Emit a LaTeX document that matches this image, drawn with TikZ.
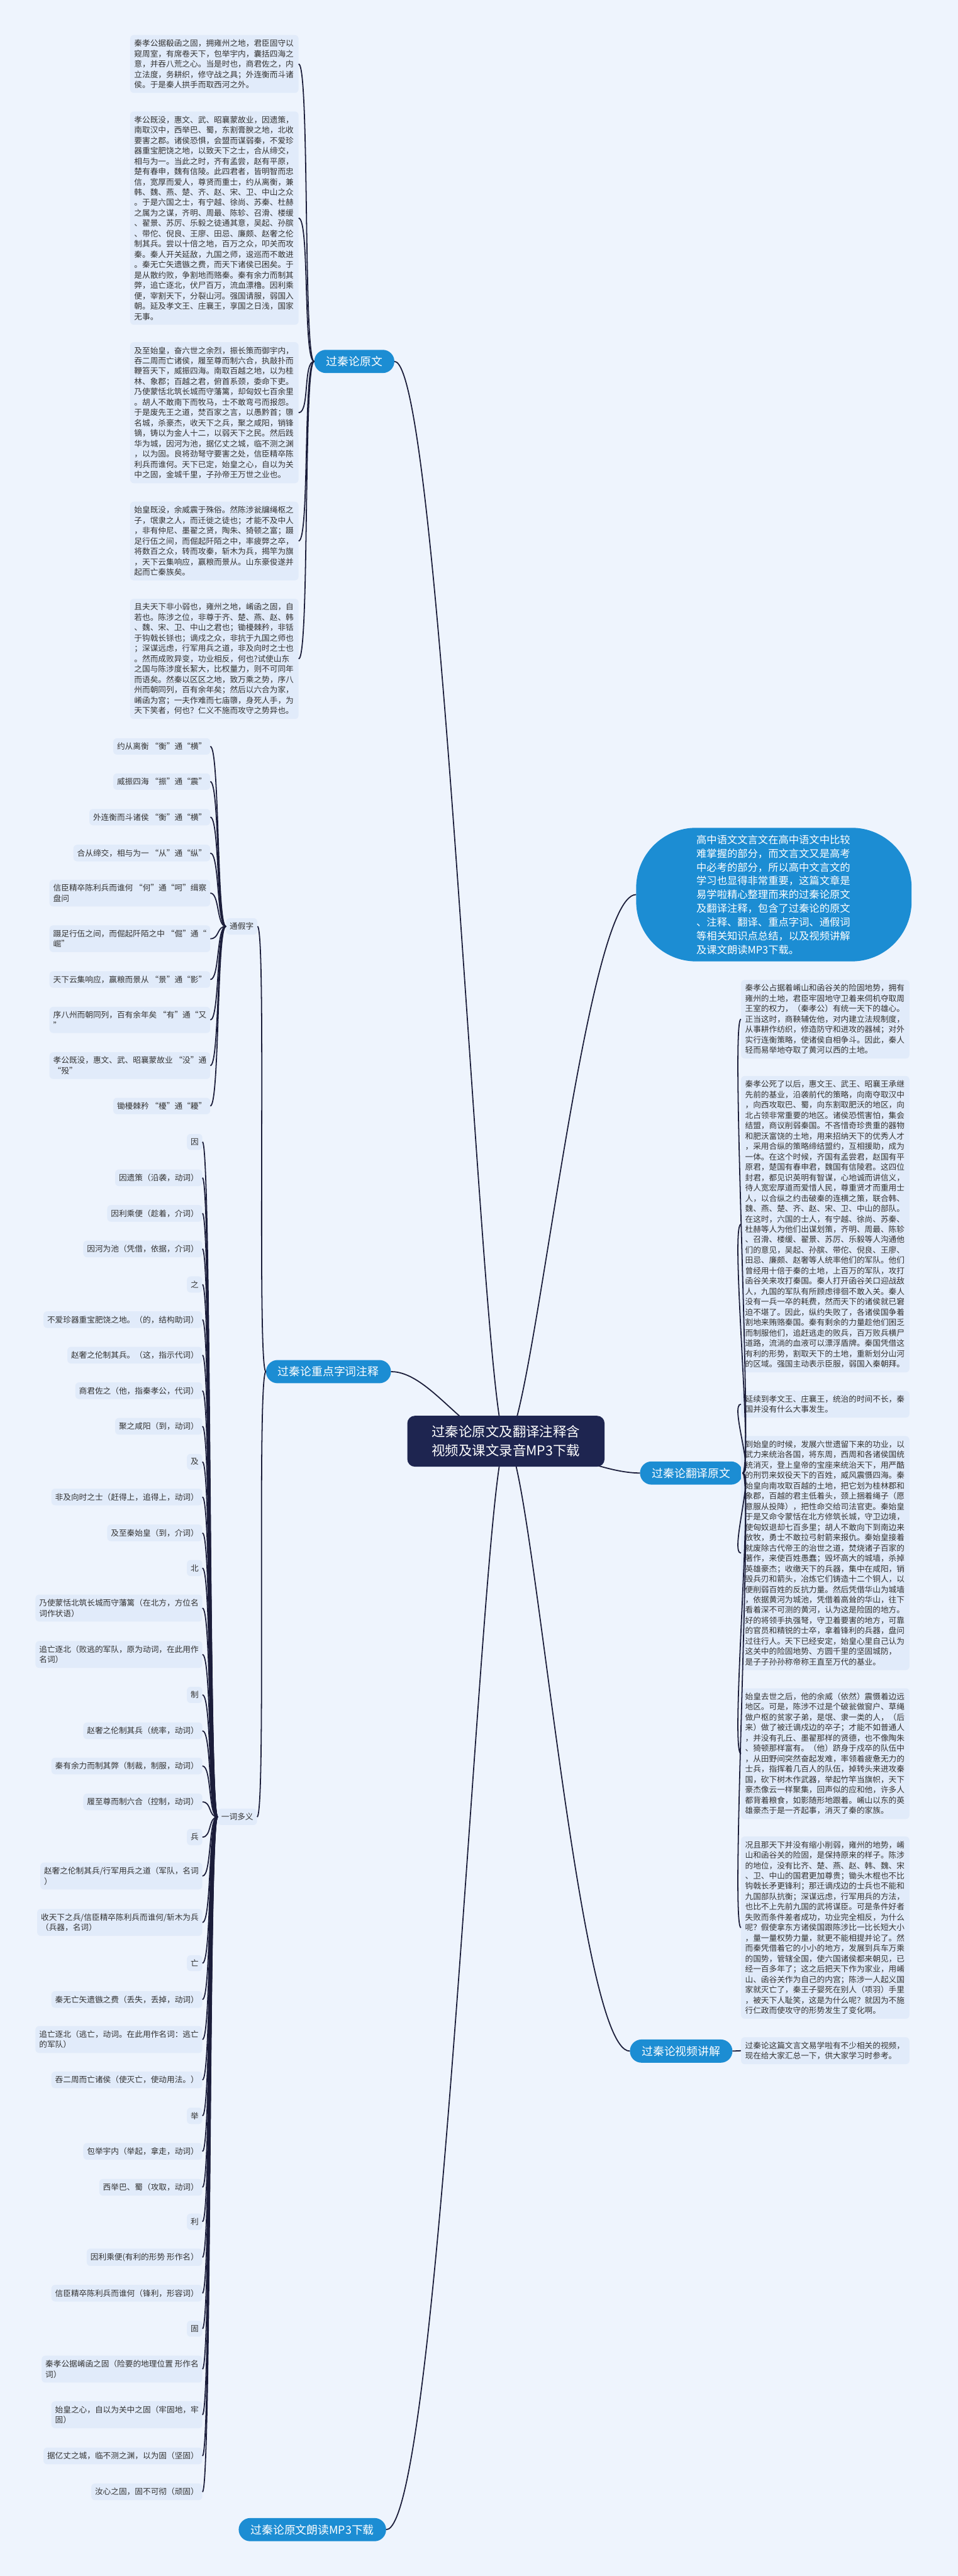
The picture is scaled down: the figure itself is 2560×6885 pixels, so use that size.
\documentclass[tikz,border=0pt]{standalone}
\usepackage{fontspec}
\setmainfont{Noto Sans CJK SC}
\XeTeXlinebreaklocale "zh"
\XeTeXlinebreakskip=0pt plus 1pt
\definecolor{mapbg}{HTML}{EEF4FD}
\definecolor{notebg}{HTML}{E1EBFA}
\definecolor{ink}{HTML}{333333}
\definecolor{mapblue}{HTML}{1C8DD3}
\definecolor{rootnavy}{HTML}{1E2550}
\definecolor{linkc}{HTML}{1B1D3A}
\newcommand{\bodyfont}{\fontsize{21.3}{27.7}\selectfont}
\tikzset{
  parabox/.style={fill=notebg, rounded corners=10pt, inner xsep=11pt, inner ysep=12pt,
                  text width=428pt, align=left, text=ink, font=\bodyfont},
  notebox/.style={fill=notebg, rounded corners=10pt, inner xsep=10pt, inner ysep=12pt,
                  align=left, text=ink, font=\bodyfont},
  pill/.style={fill=mapblue, rounded corners=31pt, minimum height=62pt, inner xsep=32pt,
               text=white, font=\fontsize{30}{36}\selectfont},
  introbox/.style={fill=mapblue, rounded corners=160pt, minimum width=736pt, minimum height=357pt,
                   text width=414pt, align=left, text=white, font=\fontsize{27.4}{36.7}\selectfont},
  rootbox/.style={fill=rootnavy, rounded corners=20pt, minimum width=527pt, minimum height=136pt,
                  align=center, text=white, font=\fontsize{36}{50}\selectfont},
  link/.style={draw=linkc, line width=3pt}}

\begin{document}
\begin{tikzpicture}[x=1pt, y=-1pt]
  \fill[mapbg] (0,0) rectangle (2560,6885);
  \useasboundingbox (0,0) rectangle (2560,6885);

  % main branches
  \node[pill, anchor=east] (yuanwen) at (1054,966) {过秦论原文};
  \node[pill, anchor=east] (zici) at (1045,3666) {过秦论重点字词注释};
  \node[pill, anchor=east] (mp3) at (1032,6761) {过秦论原文朗读MP3下载};
  \node[pill, anchor=west] (fanyi) at (1710,3937) {过秦论翻译原文};
  \node[pill, anchor=west] (shipin) at (1683,5482) {过秦论视频讲解};
  \node[introbox] (intro) at (2068,2391) {高中语文文言文在高中语文中比较\\
    难掌握的部分，而文言文又是高考\\
    中必考的部分，所以高中文言文的\\
    学习也显得非常重要，这篇文章是\\
    易学啦精心整理而来的过秦论原文\\
    及翻译注释，包含了过秦论的原文\\
    、注释、翻译、重点字词、通假词\\
    等相关知识点总结，以及视频讲解\\
    及课文朗读MP3下载。};

  % original text
  \node[parabox, anchor=east] (yw1) at (798,171) {秦孝公据殽函之固，拥雍州之地，君臣固守以\\
    窥周室，有席卷天下，包举宇内，囊括四海之\\
    意，并吞八荒之心。当是时也，商君佐之，内\\
    立法度，务耕织，修守战之具；外连衡而斗诸\\
    侯。于是秦人拱手而取西河之外。};
  \node[parabox, anchor=east] (yw2) at (798,583) {孝公既没，惠文、武、昭襄蒙故业，因遗策，\\
    南取汉中，西举巴、蜀，东割膏腴之地，北收\\
    要害之郡。诸侯恐惧，会盟而谋弱秦，不爱珍\\
    器重宝肥饶之地，以致天下之士，合从缔交，\\
    相与为一。当此之时，齐有孟尝，赵有平原，\\
    楚有春申，魏有信陵。此四君者，皆明智而忠\\
    信，宽厚而爱人，尊贤而重士，约从离衡，兼\\
    韩、魏、燕、楚、齐、赵、宋、卫、中山之众\\
    。于是六国之士，有宁越、徐尚、苏秦、杜赫\\
    之属为之谋，齐明、周最、陈轸、召滑、楼缓\\
    、翟景、苏厉、乐毅之徒通其意，吴起、孙膑\\
    、带佗、倪良、王廖、田忌、廉颇、赵奢之伦\\
    制其兵。尝以十倍之地，百万之众，叩关而攻\\
    秦。秦人开关延敌，九国之师，逡巡而不敢进\\
    。秦无亡矢遗镞之费，而天下诸侯已困矣。于\\
    是从散约败，争割地而赂秦。秦有余力而制其\\
    弊，追亡逐北，伏尸百万，流血漂橹。因利乘\\
    便，宰割天下，分裂山河。强国请服，弱国入\\
    朝。延及孝文王、庄襄王，享国之日浅，国家\\
    无事。};
  \node[parabox, anchor=east] (yw3) at (798,1103) {及至始皇，奋六世之余烈，振长策而御宇内，\\
    吞二周而亡诸侯，履至尊而制六合，执敲扑而\\
    鞭笞天下，威振四海。南取百越之地，以为桂\\
    林、象郡；百越之君，俯首系颈，委命下吏。\\
    乃使蒙恬北筑长城而守藩篱，却匈奴七百余里\\
    。胡人不敢南下而牧马，士不敢弯弓而报怨。\\
    于是废先王之道，焚百家之言，以愚黔首；隳\\
    名城，杀豪杰，收天下之兵，聚之咸阳，销锋\\
    镝，铸以为金人十二，以弱天下之民。然后践\\
    华为城，因河为池，据亿丈之城，临不测之渊\\
    ，以为固。良将劲弩守要害之处，信臣精卒陈\\
    利兵而谁何。天下已定，始皇之心，自以为关\\
    中之固，金城千里，子孙帝王万世之业也。};
  \node[parabox, anchor=east] (yw4) at (798,1446) {始皇既没，余威震于殊俗。然陈涉瓮牖绳枢之\\
    子，氓隶之人，而迁徙之徒也；才能不及中人\\
    ，非有仲尼、墨翟之贤，陶朱、猗顿之富；蹑\\
    足行伍之间，而倔起阡陌之中，率疲弊之卒，\\
    将数百之众，转而攻秦，斩木为兵，揭竿为旗\\
    ，天下云集响应，赢粮而景从。山东豪俊遂并\\
    起而亡秦族矣。};
  \node[parabox, anchor=east] (yw5) at (798,1761) {且夫天下非小弱也，雍州之地，崤函之固，自\\
    若也。陈涉之位，非尊于齐、楚、燕、赵、韩\\
    、魏、宋、卫、中山之君也；锄櫌棘矜，非铦\\
    于钩戟长铩也；谪戍之众，非抗于九国之师也\\
    ；深谋远虑，行军用兵之道，非及向时之士也\\
    。然而成败异变，功业相反，何也?试使山东\\
    之国与陈涉度长絜大，比权量力，则不可同年\\
    而语矣。然秦以区区之地，致万乘之势，序八\\
    州而朝同列，百有余年矣；然后以六合为家，\\
    崤函为宫；一夫作难而七庙隳，身死人手，为\\
    天下笑者，何也？仁义不施而攻守之势异也。};

  % key words
  \node[notebox, anchor=east] (tj) at (688,2476) {通假字};
  \node[notebox, anchor=east] (yc) at (687,4856) {一词多义};

  \node[notebox, anchor=east] (tj1) at (562,1995) {约从离衡 “衡”通“横”};
  \node[notebox, anchor=east] (tj2) at (562,2089) {威振四海 “振”通“震”};
  \node[notebox, anchor=east] (tj3) at (562,2184) {外连衡而斗诸侯 “衡”通“横”};
  \node[notebox, anchor=east] (tj4) at (562,2280) {合从缔交，相与为一 “从”通“纵”};
  \node[notebox, anchor=east] (tj5) at (562,2387) {信臣精卒陈利兵而谁何 “何”通“呵”缉察\\盘问};
  \node[notebox, anchor=east] (tj6) at (562,2509) {蹑足行伍之间，而倔起阡陌之中 “倔”通“\\崛”};
  \node[notebox, anchor=east] (tj7) at (562,2618) {天下云集响应，赢粮而景从 “景”通“影”};
  \node[notebox, anchor=east] (tj8) at (562,2726) {序八州而朝同列，百有余年矣 “有”通“又\\”};
  \node[notebox, anchor=east] (tj9) at (562,2848) {孝公既没，惠文、武、昭襄蒙故业 “没”通\\“殁”};
  \node[notebox, anchor=east] (tj10) at (562,2956) {锄櫌棘矜 “櫌”通“耰”};

  \node[notebox, anchor=east] (yc1) at (541,3052) {因};
  \node[notebox, anchor=east] (yc2) at (541,3148) {因遗策（沿袭，动词）};
  \node[notebox, anchor=east] (yc3) at (541,3243) {因利乘便（趁着，介词）};
  \node[notebox, anchor=east] (yc4) at (541,3338) {因河为池（凭借，依据，介词）};
  \node[notebox, anchor=east] (yc5) at (541,3433) {之};
  \node[notebox, anchor=east] (yc6) at (541,3527) {不爱珍器重宝肥饶之地。（的，结构助词）};
  \node[notebox, anchor=east] (yc7) at (541,3622) {赵奢之伦制其兵。（这，指示代词）};
  \node[notebox, anchor=east] (yc8) at (541,3717) {商君佐之（他，指秦孝公，代词）};
  \node[notebox, anchor=east] (yc9) at (541,3812) {聚之咸阳（到，动词）};
  \node[notebox, anchor=east] (yc10) at (541,3907) {及};
  \node[notebox, anchor=east] (yc11) at (541,4001) {非及向时之士（赶得上，追得上，动词）};
  \node[notebox, anchor=east] (yc12) at (541,4097) {及至秦始皇（到，介词）};
  \node[notebox, anchor=east] (yc13) at (541,4191) {北};
  \node[notebox, anchor=east] (yc14) at (541,4298) {乃使蒙恬北筑长城而守藩篱（在北方，方位名\\词作状语）};
  \node[notebox, anchor=east] (yc15) at (541,4422) {追亡逐北（败逃的军队，原为动词，在此用作\\名词）};
  \node[notebox, anchor=east] (yc16) at (541,4530) {制};
  \node[notebox, anchor=east] (yc17) at (541,4626) {赵奢之伦制其兵（统率，动词）};
  \node[notebox, anchor=east] (yc18) at (541,4720) {秦有余力而制其弊（制裁，制服，动词）};
  \node[notebox, anchor=east] (yc19) at (541,4816) {履至尊而制六合（控制，动词）};
  \node[notebox, anchor=east] (yc20) at (541,4910) {兵};
  \node[notebox, anchor=east] (yc21) at (541,5014) {赵奢之伦制其兵/行军用兵之道（军队，名词\\）};
  \node[notebox, anchor=east] (yc22) at (541,5138) {收天下之兵/信臣精卒陈利兵而谁何/斩木为兵\\（兵器，名词）};
  \node[notebox, anchor=east] (yc23) at (541,5247) {亡};
  \node[notebox, anchor=east] (yc24) at (541,5344) {秦无亡矢遗镞之费（丢失，丢掉，动词）};
  \node[notebox, anchor=east] (yc25) at (541,5451) {追亡逐北（逃亡，动词。在此用作名词：逃亡\\的军队）};
  \node[notebox, anchor=east] (yc26) at (541,5559) {吞二周而亡诸侯（使灭亡，使动用法。）};
  \node[notebox, anchor=east] (yc27) at (541,5655) {举};
  \node[notebox, anchor=east] (yc28) at (541,5750) {包举宇内（举起，拿走，动词）};
  \node[notebox, anchor=east] (yc29) at (541,5846) {西举巴、蜀（攻取，动词）};
  \node[notebox, anchor=east] (yc30) at (541,5938) {利};
  \node[notebox, anchor=east] (yc31) at (541,6033) {因利乘便(有利的形势 形作名）};
  \node[notebox, anchor=east] (yc32) at (541,6129) {信臣精卒陈利兵而谁何（锋利，形容词）};
  \node[notebox, anchor=east] (yc33) at (541,6224) {固};
  \node[notebox, anchor=east] (yc34) at (541,6332) {秦孝公据崤函之固（险要的地理位置 形作名\\词）};
  \node[notebox, anchor=east] (yc35) at (541,6454) {始皇之心，自以为关中之固（牢固地，牢\\固）};
  \node[notebox, anchor=east] (yc36) at (541,6564) {据亿丈之城，临不测之渊，以为固（坚固）};
  \node[notebox, anchor=east] (yc37) at (541,6660) {汝心之固，固不可彻（顽固）};

  % translation
  \node[parabox, anchor=west] (fy1) at (1980,2724) {秦孝公占据着崤山和函谷关的险固地势，拥有\\
    雍州的土地，君臣牢固地守卫着来伺机夺取周\\
    王室的权力，（秦孝公）有统一天下的雄心。\\
    正当这时，商鞅辅佐他，对内建立法规制度，\\
    从事耕作纺织，修造防守和进攻的器械；对外\\
    实行连衡策略，使诸侯自相争斗。因此，秦人\\
    轻而易举地夺取了黄河以西的土地。};
  \node[parabox, anchor=west] (fy2) at (1980,3272) {秦孝公死了以后，惠文王、武王、昭襄王承继\\
    先前的基业，沿袭前代的策略，向南夺取汉中\\
    ，向西攻取巴、蜀，向东割取肥沃的地区，向\\
    北占领非常重要的地区。诸侯恐慌害怕，集会\\
    结盟，商议削弱秦国。不吝惜奇珍贵重的器物\\
    和肥沃富饶的土地，用来招纳天下的优秀人才\\
    ，采用合纵的策略缔结盟约，互相援助，成为\\
    一体。在这个时候，齐国有孟尝君，赵国有平\\
    原君，楚国有春申君，魏国有信陵君。这四位\\
    封君，都见识英明有智谋，心地诚而讲信义，\\
    待人宽宏厚道而爱惜人民，尊重贤才而重用士\\
    人，以合纵之约击破秦的连横之策，联合韩、\\
    魏、燕、楚、齐、赵、宋、卫、中山的部队。\\
    在这时，六国的士人，有宁越、徐尚、苏秦、\\
    杜赫等人为他们出谋划策，齐明、周最、陈轸\\
    、召滑、楼缓、翟景、苏厉、乐毅等人沟通他\\
    们的意见，吴起、孙膑、带佗、倪良、王廖、\\
    田忌、廉颇、赵奢等人统率他们的军队。他们\\
    曾经用十倍于秦的土地，上百万的军队，攻打\\
    函谷关来攻打秦国。秦人打开函谷关口迎战敌\\
    人，九国的军队有所顾虑徘徊不敢入关。秦人\\
    没有一兵一卒的耗费，然而天下的诸侯就已窘\\
    迫不堪了。因此，纵约失败了，各诸侯国争着\\
    割地来贿赂秦国。秦有剩余的力量趁他们困乏\\
    而制服他们，追赶逃走的败兵，百万败兵横尸\\
    道路，流淌的血液可以漂浮盾牌。秦国凭借这\\
    有利的形势，割取天下的土地，重新划分山河\\
    的区域。强国主动表示臣服，弱国入秦朝拜。};
  \node[parabox, anchor=west] (fy3) at (1980,3753) {延续到孝文王、庄襄王，统治的时间不长，秦\\
    国并没有什么大事发生。};
  \node[parabox, anchor=west] (fy4) at (1980,4151) {到始皇的时候，发展六世遗留下来的功业，以\\
    武力来统治各国，将东周，西周和各诸侯国统\\
    统消灭，登上皇帝的宝座来统治天下，用严酷\\
    的刑罚来奴役天下的百姓，威风震慑四海。秦\\
    始皇向南攻取百越的土地，把它划为桂林郡和\\
    象郡，百越的君主低着头，颈上捆着绳子（愿\\
    意服从投降），把性命交给司法官吏。秦始皇\\
    于是又命令蒙恬在北方修筑长城，守卫边境，\\
    使匈奴退却七百多里；胡人不敢向下到南边来\\
    放牧，勇士不敢拉弓射箭来报仇。秦始皇接着\\
    就废除古代帝王的治世之道，焚烧诸子百家的\\
    著作，来使百姓愚蠢；毁坏高大的城墙，杀掉\\
    英雄豪杰；收缴天下的兵器，集中在咸阳，销\\
    毁兵刃和箭头，冶炼它们铸造十二个铜人，以\\
    便削弱百姓的反抗力量。然后凭借华山为城墙\\
    ，依据黄河为城池，凭借着高耸的华山，往下\\
    看着深不可测的黄河，认为这是险固的地方。\\
    好的将领手执强弩，守卫着要害的地方，可靠\\
    的官员和精锐的士卒，拿着锋利的兵器，盘问\\
    过往行人。天下已经安定，始皇心里自己认为\\
    这关中的险固地势、方圆千里的坚固城防，\\
    是子子孙孙称帝称王直至万代的基业。};
  \node[parabox, anchor=west] (fy5) at (1980,4687) {始皇去世之后，他的余威（依然）震慑着边远\\
    地区。可是，陈涉不过是个破瓮做窗户、草绳\\
    做户枢的贫家子弟，是氓、隶一类的人，（后\\
    来）做了被迁谪戍边的卒子；才能不如普通人\\
    ，并没有孔丘、墨翟那样的贤德，也不像陶朱\\
    、猗顿那样富有。（他）跻身于戍卒的队伍中\\
    ，从田野间突然奋起发难，率领着疲惫无力的\\
    士兵，指挥着几百人的队伍，掉转头来进攻秦\\
    国，砍下树木作武器，举起竹竿当旗帜，天下\\
    豪杰像云一样聚集，回声似的应和他，许多人\\
    都背着粮食，如影随形地跟着。崤山以东的英\\
    雄豪杰于是一齐起事，消灭了秦的家族。};
  \node[parabox, anchor=west] (fy6) at (1980,5152) {况且那天下并没有缩小削弱，雍州的地势，崤\\
    山和函谷关的险固，是保持原来的样子。陈涉\\
    的地位，没有比齐、楚、燕、赵、韩、魏、宋\\
    、卫、中山的国君更加尊贵；锄头木棍也不比\\
    钩戟长矛更锋利；那迁谪戍边的士兵也不能和\\
    九国部队抗衡；深谋远虑，行军用兵的方法，\\
    也比不上先前九国的武将谋臣。可是条件好者\\
    失败而条件差者成功，功业完全相反，为什么\\
    呢？假使拿东方诸侯国跟陈涉比一比长短大小\\
    ，量一量权势力量，就更不能相提并论了。然\\
    而秦凭借着它的小小的地方，发展到兵车万乘\\
    的国势，管辖全国，使六国诸侯都来朝见，已\\
    经一百多年了；这之后把天下作为家业，用崤\\
    山、函谷关作为自己的内宫；陈涉一人起义国\\
    家就灭亡了，秦王子婴死在别人（项羽）手里\\
    ，被天下人耻笑，这是为什么呢？就因为不施\\
    行仁政而使攻守的形势发生了变化啊。};
  \node[parabox, anchor=west] (sp1) at (1980,5481) {过秦论这篇文言文易学啦有不少相关的视频，\\
    现在给大家汇总一下，供大家学习时参考。};

  % connectors
  \foreach \i in {1,...,5}
    \draw[link] (yuanwen.west) .. controls +(-30,0) and +(30,0) .. (yw\i.east);
  \foreach \n in {tj,yc}
    \draw[link] (zici.west) .. controls +(-25,0) and +(25,0) .. (\n.east);
  \foreach \i in {1,...,10}
    \draw[link] (tj.west) .. controls +(-25,0) and +(25,0) .. (tj\i.east);
  \foreach \i in {1,...,37}
    \draw[link] (yc.west) .. controls +(-25,0) and +(25,0) .. (yc\i.east);
  \foreach \i in {1,...,6}
    \draw[link] (fanyi.east) .. controls +(30,0) and +(-30,0) .. (fy\i.west);
  \draw[link] (shipin.east) -- (sp1.west);

  \coordinate (rootc) at (1352,3852);
  \draw[link] (rootc) .. controls (1290,3852) and (1180,966) .. (yuanwen.east);
  \draw[link] (rootc) .. controls (1250,3852) and (1150,3666) .. (zici.east);
  \draw[link] (rootc) .. controls (1290,3852) and (1180,6761) .. (mp3.east);
  \draw[link] (rootc) .. controls (1420,3852) and (1560,2391) .. (intro.west);
  \draw[link] (rootc) .. controls (1450,3852) and (1600,3937) .. (fanyi.west);
  \draw[link] (rootc) .. controls (1420,3852) and (1540,5482) .. (shipin.west);
  \node[rootbox] (root) at (rootc) {过秦论原文及翻译注释含\\视频及课文录音MP3下载};
\end{tikzpicture}
\end{document}
